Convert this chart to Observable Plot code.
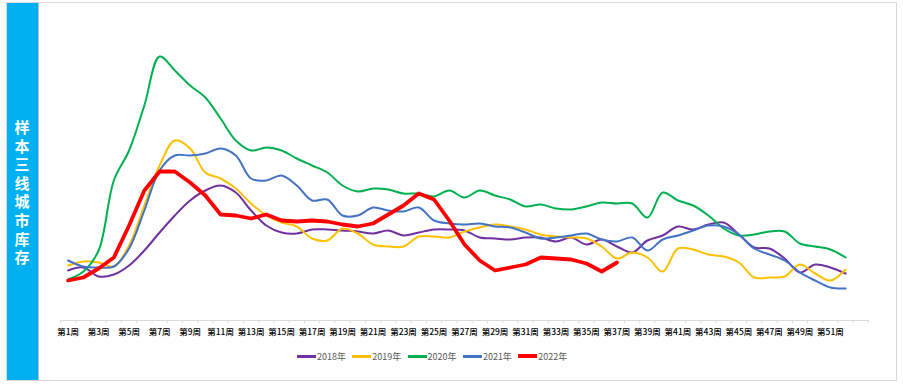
<!DOCTYPE html>
<html><head><meta charset="utf-8">
<script src="https://cdn.jsdelivr.net/npm/d3@7"></script>
<script src="https://cdn.jsdelivr.net/npm/@observablehq/plot@0.6"></script>
<style>
html,body{margin:0;padding:0;background:#fff;}
#wrap{position:relative;width:903px;height:385px;overflow:hidden;font-family:"Noto Sans CJK SC","Noto Sans",sans-serif;}
#frame{position:absolute;left:6px;top:2px;width:889px;height:377px;border:1px solid #d9d9d9;}
#side{position:absolute;left:7px;top:3px;width:31px;height:377px;background:#00b0f0;border-right:1px solid #bfbfbf;}
#side div{position:absolute;left:7px;width:16px;top:115px;text-align:center;color:#fff;font-weight:bold;font-size:15px;line-height:18.6px;word-break:break-all;}
#chart{position:absolute;left:0;top:0;}
#legend{position:absolute;top:349px;left:297px;display:flex;font-size:9px;color:#595959;}
#legend .item{display:flex;align-items:center;width:55.3px;height:14px;}
#legend .sw{width:19px;margin-right:1px;}
</style></head>
<body><div id="wrap">
<div id="frame"></div>
<div id="side"><div>样本三线城市库存</div></div>
<div id="chart"></div>
<div id="legend"></div>
</div>
<script>
const weeks = d3.range(1, 53);
const tickWeeks = [1,3,5,7,9,11,13,15,17,19,21,23,25,27,29,31,33,35,37,39,41,43,45,47,49,51];
const years = ["2018年","2019年","2020年","2021年","2022年"];
const colors = ["#7030a0","#ffc000","#00b050","#4472c4","#ff0000"];
const widths = [2,2,2,2,3.8];

const v2018 = [50,53,44,46,55,70,88,105,120,130,135,128,110,95,88,87,91,91,90,89,87,90,85,88,91,91,90,83,82,81,83,83,79,83,76,81,74,68,80,85,94,91,96,98,86,73,72,62,48,56,53,47];
const v2019 = [55,59,58,54,75,115,155,180,172,148,142,132,117,105,98,94,82,80,92,87,76,74,74,84,84,83,89,93,96,94,91,86,84,83,82,74,62,68,63,49,72,71,66,64,58,43,43,44,56,47,40,51];
const v2020 = [41,49,70,140,170,215,264,250,235,223,202,180,170,173,170,162,155,148,135,129,132,131,127,127,124,130,123,130,125,121,114,116,112,111,114,118,117,117,103,128,120,115,105,92,85,86,89,89,77,74,71,63];
const v2021 = [60,54,53,54,72,110,150,165,165,167,172,165,142,140,145,135,120,121,105,105,113,110,109,113,100,97,96,97,94,93,88,82,83,85,87,81,79,83,70,81,85,90,95,94,86,72,66,60,48,40,33,32];
const v2022 = [40,43,52,63,95,130,149,149,138,125,106,105,102,106,100,99,100,99,96,94,97,106,115,127,121,100,76,60,50,53,56,63,62,61,57,49,58];

const series = [v2018, v2019, v2020, v2021, v2022];
const boundaries = d3.range(0, 54).map(d => d + 0.5);

const marks = [
  Plot.ruleY([0], {stroke: "#d9d9d9", strokeWidth: 1}),
  Plot.axisX(boundaries, {tickSize: 3, tickFormat: () => "", stroke: "#d9d9d9", label: null}),
  Plot.axisX(tickWeeks, {tickSize: 0, tickPadding: 8, tickFormat: d => `第${d}周`, fontSize: 8.5, fontWeight: 500, label: null})
];
series.forEach((vals, i) => {
  const data = vals.map((v, j) => ({week: weeks[j], value: v}));
  marks.push(Plot.line(data, {
    x: "week", y: "value", stroke: colors[i], strokeWidth: widths[i],
    curve: i === 4 ? "linear" : "catmull-rom", strokeLinejoin: "round"
  }));
});

const chart = Plot.plot({
  width: 903, height: 345,
  marginLeft: 60, marginRight: 35, marginTop: 0, marginBottom: 25,
  x: {domain: [0.5, 53.5], axis: null},
  y: {domain: [0, 320], axis: null},
  style: {background: "transparent", overflow: "visible", color: "#000", fontFamily: "'Noto Sans CJK SC', sans-serif"},
  marks
});
document.getElementById("chart").appendChild(chart);

const legend = document.getElementById("legend");
years.forEach((y, i) => {
  const item = document.createElement("div");
  item.className = "item";
  const sw = document.createElement("div");
  sw.className = "sw";
  sw.style.background = colors[i];
  sw.style.height = (i === 4 ? 4 : 3) + "px";
  const t = document.createElement("span");
  t.textContent = y;
  item.appendChild(sw); item.appendChild(t);
  legend.appendChild(item);
});
</script>
</body></html>
